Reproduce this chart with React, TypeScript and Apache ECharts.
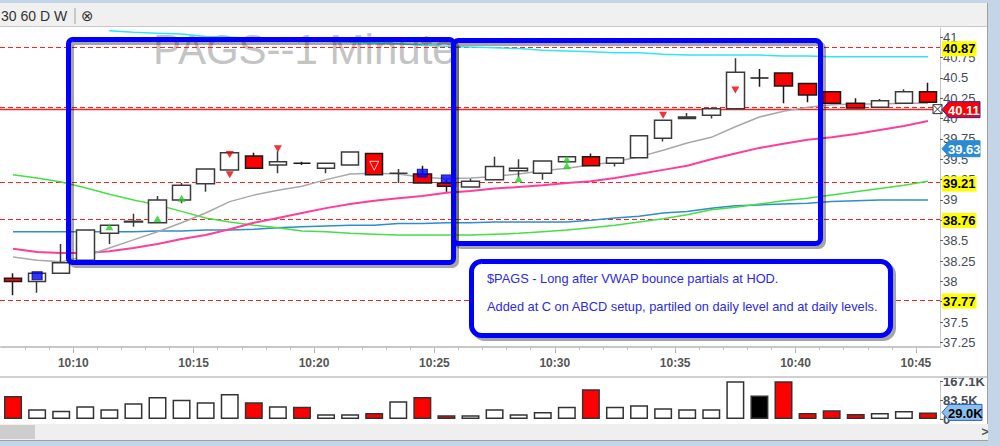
import React, { useEffect, useRef } from "react";
import * as echarts from "echarts";

// ---------- data ----------
const CATEGORIES = [
  "10:07", "10:08", "10:09", "10:10", "10:11", "10:12", "10:13", "10:14", "10:15", "10:16",
  "10:17", "10:18", "10:19", "10:20", "10:21", "10:22", "10:23", "10:24", "10:25", "10:26",
  "10:27", "10:28", "10:29", "10:30", "10:31", "10:32", "10:33", "10:34", "10:35", "10:36",
  "10:37", "10:38", "10:39", "10:40", "10:41", "10:42", "10:43", "10:44", "10:45",
];
const OPEN = [
  38.04, 38.0, 38.1, 38.26, 38.59, 38.73, 38.72, 39.0, 39.2, 39.37,
  39.54, 39.43, 39.45, 39.39, 39.43, 39.57, 39.33, 39.32, 39.21, 39.16,
  39.25, 39.36, 39.33, 39.47, 39.53, 39.45, 39.52, 39.76, 40.0, 40.04,
  40.12, 40.5, 40.56, 40.43, 40.33, 40.19, 40.14, 40.19, 40.33,
];
const CLOSE = [
  38.0, 38.1, 38.23, 38.63, 38.69, 38.74, 39.0, 39.18, 39.38, 39.58,
  39.39, 39.47, 39.45, 39.45, 39.59, 39.31, 39.33, 39.21, 39.17, 39.23,
  39.41, 39.39, 39.48, 39.53, 39.42, 39.52, 39.79, 39.98, 40.02, 40.12,
  40.57, 40.5, 40.4, 40.29, 40.19, 40.13, 40.22, 40.33, 40.2,
];
const LOW = [
  37.83, 37.86, 38.1, 38.26, 38.46, 38.67, 38.72, 38.96, 39.1, 39.37,
  39.39, 39.33, 39.43, 39.33, 39.43, 39.3, 39.21, 39.21, 39.1, 39.16,
  39.25, 39.28, 39.25, 39.47, 39.42, 39.41, 39.52, 39.72, 40.0, 40.0,
  40.12, 40.39, 40.19, 40.2, 40.19, 40.13, 40.14, 40.19, 40.2,
];
const HIGH = [
  38.1, 38.1, 38.46, 38.63, 38.69, 38.83, 39.05, 39.21, 39.38, 39.58,
  39.58, 39.6, 39.47, 39.45, 39.6, 39.57, 39.38, 39.42, 39.25, 39.26,
  39.53, 39.5, 39.48, 39.53, 39.57, 39.52, 39.79, 39.98, 40.07, 40.14,
  40.74, 40.61, 40.56, 40.43, 40.33, 40.25, 40.24, 40.36, 40.44,
];
const VOLUME = [
  101000, 43000, 36000, 56000, 43000, 69000, 97000, 85000, 74000, 110000,
  74000, 56000, 54000, 21000, 21000, 26000, 78000, 97000, 16000, 16000,
  43000, 21000, 31000, 54000, 131000, 54000, 60000, 47000, 43000, 43000,
  166000, 103000, 166000, 26000, 38000, 22000, 26000, 35000, 29000,
];
const VOLUME_SIDE = [
  "down", "up", "up", "up", "up", "up", "up", "up", "up", "up",
  "down", "up", "down", "up", "up", "down", "up", "down", "down", "up",
  "up", "up", "up", "up", "down", "up", "up", "up", "up", "up",
  "up", "flat", "down", "down", "down", "down", "up", "up", "down",
];
const LINE_GRAY = [
  38.3, 38.26, 38.24, 38.31, 38.41, 38.51, 38.61, 38.72, 38.84, 38.98,
  39.06, 39.12, 39.17, 39.25, 39.32, 39.33, 39.32, 39.28, 39.26, 39.27,
  39.29, 39.32, 39.36, 39.39, 39.43, 39.47, 39.53, 39.61, 39.7, 39.77,
  39.9, 40.02, 40.09, 40.14, 40.17, 40.18, 40.18, 40.19, 40.19,
];
const LINE_PINK = [
  38.4, 38.36, 38.35, 38.35, 38.37, 38.41, 38.46, 38.52, 38.57, 38.64,
  38.72, 38.78, 38.84, 38.9, 38.95, 38.99, 39.02, 39.05, 39.09, 39.11,
  39.14, 39.16, 39.18, 39.21, 39.23, 39.27, 39.32, 39.37, 39.42, 39.5,
  39.57, 39.64, 39.69, 39.74, 39.77, 39.81, 39.86, 39.91, 39.97,
];
const LINE_GREEN = [
  39.31, 39.27, 39.22, 39.15, 39.07, 39.0, 38.94, 38.86, 38.78, 38.73,
  38.69, 38.66, 38.62, 38.61, 38.59, 38.58, 38.57, 38.57, 38.57, 38.57,
  38.58, 38.59, 38.61, 38.63, 38.66, 38.69, 38.73, 38.77, 38.82, 38.88,
  38.91, 38.95, 38.99, 39.02, 39.06, 39.1, 39.14, 39.18, 39.23,
];
const LINE_BLUE = [
  38.61, 38.61, 38.61, 38.61, 38.61, 38.61, 38.62, 38.62, 38.63, 38.63,
  38.64, 38.66, 38.67, 38.68, 38.69, 38.69, 38.71, 38.71, 38.72, 38.72,
  38.73, 38.73, 38.73, 38.73, 38.75, 38.78, 38.8, 38.84, 38.86, 38.9,
  38.93, 38.94, 38.95, 38.96, 38.98, 38.99, 39.0, 39.0, 39.0,
];
const LINE_CYAN: (number | string)[] = [
  "-", "-", "-", "-", 41.08, 41.06, 41.05, 41.04, 41.01, 41.0,
  40.99, 40.98, 40.97, 40.95, 40.94, 40.93, 40.92, 40.9, 40.89, 40.88,
  40.87, 40.86, 40.84, 40.83, 40.82, 40.81, 40.81, 40.79, 40.78, 40.78,
  40.78, 40.78, 40.77, 40.77, 40.76, 40.76, 40.76, 40.76, 40.76,
];
const BUY_MARKS = [[4, 38.67], [6, 38.77], [7, 39.02], [21, 39.26], [23, 39.5], [23, 39.42]];
const SELL_MARKS = [[9, 39.56], [9, 39.31], [11, 39.63], [27, 40.04], [30, 40.35]];
const EXIT_MARKS = [[15, 39.42]];
const ORDER_MARKS = [[1, 38.07], [17, 39.33], [18, 39.26]];

const LEVELS = [40.87, 39.21, 38.76, 37.77];
const PRIOR_LEVEL = 40.14;
const LAST_PRICE = 40.11;
const INDICATOR_PRICE = 39.63;
const LAST_VOLUME = 29000;

const PRICE_TICKS = [41, 40.75, 40.5, 40.25, 40, 39.75, 39.5, 39.25, 39, 38.75, 38.5, 38.25, 38, 37.75, 37.5, 37.25];
const TIME_TICKS = [10, 15, 20, 25, 30, 35, 40, 45];
const TIME_TICK_LABELS = ["10:10", "10:15", "10:20", "10:25", "10:30", "10:35", "10:40", "10:45"];
const VOLUME_TICKS = [0, 83550, 167100];
const VOLUME_TICK_LABELS = ["0", "83.5K", "167.1K"];

const TITLE = "PAGS--1 Minute";
const NOTE_LINES = [
  "$PAGS - Long after VWAP bounce partials at HOD.",
  "Added at C on ABCD setup, partiled on daily level and at daily levels.",
];
const TOOLBAR = "30 60 D W";

const FONT = "Arial, 'Liberation Sans', sans-serif";

export default function App() {
  const ref = useRef<HTMLDivElement>(null);

  useEffect(() => {
    if (!ref.current) return;
    const chart = echarts.init(ref.current, null, { renderer: "svg" });

    const candles = OPEN.map((o, i) => [o, CLOSE[i], LOW[i], HIGH[i]]);
    const sideColor: Record<string, string> = { up: "#ffffff", down: "#ff0000", flat: "#000000" };
    const volumes = VOLUME.map((v, i) => ({
      value: v,
      itemStyle: { color: sideColor[VOLUME_SIDE[i]] },
    }));
    const minuteTicks: number[] = [];
    for (let m = 8; m <= 45; m++) minuteTicks.push(m);

    const option: any = {
      animation: false,
      backgroundColor: "#ffffff",
      grid: [
        { left: 1, width: 939, top: 28, height: 319, outerBoundsMode: "none" },
        { left: 1, width: 939, top: 381, height: 38, outerBoundsMode: "none" },
      ],
      xAxis: [
        { type: "category", gridIndex: 0, data: CATEGORIES, boundaryGap: true, show: false },
        { type: "category", gridIndex: 1, data: CATEGORIES, boundaryGap: true, show: false },
        {
          type: "value",
          gridIndex: 0,
          min: 7,
          max: 46,
          position: "bottom",
          splitLine: { show: false },
          axisLine: { show: true, lineStyle: { color: "#c8c8c8", width: 2 } },
          axisTick: { show: true, customValues: TIME_TICKS, length: 6, lineStyle: { color: "#b0b0b0" } },
          axisLabel: {
            show: true,
            customValues: TIME_TICKS,
            margin: 10,
            color: "#555555",
            fontWeight: "bold",
            fontSize: 12,
            fontFamily: FONT,
            formatter: (v: number) => TIME_TICK_LABELS[TIME_TICKS.indexOf(v)] ?? "",
          },
        },
        {
          type: "value",
          gridIndex: 0,
          min: 7,
          max: 46,
          position: "bottom",
          splitLine: { show: false },
          axisLine: { show: false },
          axisTick: { show: true, customValues: minuteTicks, length: 3, lineStyle: { color: "#c0c0c0" } },
          axisLabel: { show: false },
        },
      ],
      yAxis: [
        {
          type: "value",
          gridIndex: 0,
          position: "right",
          min: 37.194,
          max: 41.113,
          splitLine: { show: false },
          axisLine: { show: true, lineStyle: { color: "#c8c8c8" } },
          axisTick: { show: true, customValues: PRICE_TICKS, length: 3, lineStyle: { color: "#666666" } },
          axisLabel: {
            show: true,
            customValues: PRICE_TICKS,
            margin: 3,
            color: "#454c58",
            fontSize: 13,
            fontFamily: FONT,
            formatter: (v: number) => String(v),
          },
        },
        {
          type: "value",
          gridIndex: 1,
          position: "right",
          min: 0,
          max: 167100,
          splitLine: { show: false },
          axisLine: { show: true, lineStyle: { color: "#c8c8c8" } },
          axisTick: { show: true, customValues: VOLUME_TICKS, length: 3, lineStyle: { color: "#666666" } },
          axisLabel: {
            show: true,
            customValues: VOLUME_TICKS,
            margin: 3,
            color: "#454c58",
            fontWeight: "bold",
            fontSize: 13,
            fontFamily: FONT,
            formatter: (v: number) => VOLUME_TICK_LABELS[VOLUME_TICKS.indexOf(v)] ?? "",
          },
        },
      ],
      series: [
        { type: "line", name: "Cyan", data: LINE_CYAN, xAxisIndex: 0, yAxisIndex: 0, symbol: "none", lineStyle: { color: "#30e6f0", width: 1.5 }, silent: true },
        { type: "line", name: "Blue", data: LINE_BLUE, xAxisIndex: 0, yAxisIndex: 0, symbol: "none", lineStyle: { color: "#2f8ccf", width: 1.5 }, silent: true },
        { type: "line", name: "Green", data: LINE_GREEN, xAxisIndex: 0, yAxisIndex: 0, symbol: "none", lineStyle: { color: "#44e044", width: 1.5 }, silent: true },
        { type: "line", name: "Pink", data: LINE_PINK, xAxisIndex: 0, yAxisIndex: 0, symbol: "none", lineStyle: { color: "#ff3d9a", width: 2 }, silent: true },
        { type: "line", name: "Gray", data: LINE_GRAY, xAxisIndex: 0, yAxisIndex: 0, symbol: "none", lineStyle: { color: "#a8a8a8", width: 1.5 }, silent: true },
        {
          type: "candlestick",
          name: "PAGS",
          data: candles,
          xAxisIndex: 0,
          yAxisIndex: 0,
          barWidth: 18,
          z: 3,
          itemStyle: { color: "#ffffff", color0: "#ff0000", borderColor: "#3a3a3a", borderColor0: "#1a1a1a", borderWidth: 1.5 },
        },
        { type: "scatter", name: "Buys", data: BUY_MARKS, xAxisIndex: 0, yAxisIndex: 0, symbol: "triangle", symbolSize: [8, 7], itemStyle: { color: "#22cc22" }, silent: true, z: 4 },
        { type: "scatter", name: "Sells", data: SELL_MARKS, xAxisIndex: 0, yAxisIndex: 0, symbol: "triangle", symbolRotate: 180, symbolSize: [8, 7], itemStyle: { color: "#ee0000" }, silent: true, z: 4 },
        { type: "scatter", name: "Exit", data: EXIT_MARKS, xAxisIndex: 0, yAxisIndex: 0, symbol: "triangle", symbolRotate: 180, symbolSize: [9, 9], itemStyle: { color: "rgba(0,0,0,0)", borderColor: "#ffffff", borderWidth: 1 }, silent: true, z: 4 },
        { type: "scatter", name: "Orders", data: ORDER_MARKS, xAxisIndex: 0, yAxisIndex: 0, symbol: "rect", symbolSize: [10, 8], itemStyle: { color: "#0000ff", borderColor: "#000066", borderWidth: 1 }, silent: true, z: 4 },
        {
          type: "bar",
          name: "Volume",
          data: volumes,
          xAxisIndex: 1,
          yAxisIndex: 1,
          barWidth: 18,
          itemStyle: { borderColor: "#333333", borderWidth: 1.5 },
          silent: true,
        },
      ],
    };
    chart.setOption(option);

    const py = (v: number) => chart.convertToPixel({ yAxisIndex: 0 }, v) as number;
    const vy = (v: number) => chart.convertToPixel({ yAxisIndex: 1 }, v) as number;
    const axisX = chart.convertToPixel({ xAxisIndex: 2 }, 46) as number;
    const leftX = chart.convertToPixel({ xAxisIndex: 2 }, 7) as number;
    const crisp = (y: number) => Math.round(y - 0.5) + 0.5;

    const levelLine = (v: number, solid = false) => ({
      type: "line",
      z: 2,
      shape: { x1: leftX - 1, y1: crisp(py(v)), x2: axisX, y2: crisp(py(v)) },
      style: { stroke: "#ff2020", lineWidth: solid ? 1.5 : 1.2, lineDash: solid ? null : [5, 3] },
    });
    const levelLabel = (v: number) => ({
      type: "text",
      z: 55,
      x: axisX + 2,
      y: py(v) + 1,
      style: {
        text: v.toFixed(2),
        fill: "#000000",
        font: `bold 13px ${FONT}`,
        backgroundColor: "#ffff00",
        padding: [2, 1, 0, 1],
        textAlign: "left",
        textVerticalAlign: "middle",
      },
    });

    const arrow = (y: number, fill: string, stroke: string, text: string, color: string, w = 38) => [
      {
        type: "polygon",
        z: 60,
        shape: { points: [[axisX + 2, y], [axisX + 9, y - 8], [axisX + 2 + w, y - 8], [axisX + 2 + w, y + 8], [axisX + 9, y + 8]] },
        style: { fill, stroke, lineWidth: 1 },
      },
      {
        type: "text",
        z: 61,
        x: axisX + 8,
        y: y + 1,
        style: { text, fill: color, font: `bold 13px ${FONT}`, textAlign: "left", textVerticalAlign: "middle" },
      },
    ];

    const lastY = py(LAST_PRICE);
    const graphic: any[] = [
      // watermark title
      { type: "text", z: 0, x: 153, y: 70, style: { text: TITLE, fill: "#c4c4c4", font: `42px ${FONT}`, textAlign: "left", textVerticalAlign: "bottom" } },
      // price levels
      ...LEVELS.map((v) => levelLine(v)),
      levelLine(PRIOR_LEVEL),
      levelLine(LAST_PRICE, true),
      ...LEVELS.map((v) => levelLabel(v)),
      // window chrome
      { type: "rect", z: 70, shape: { x: 0, y: 0, width: 1000, height: 3 }, style: { fill: "#c5d5e8" } },
      { type: "rect", z: 70, shape: { x: 0, y: 3, width: 988, height: 23 }, style: { fill: "#f0f0f0" } },
      { type: "line", z: 70, shape: { x1: 0, y1: 26.5, x2: 988, y2: 26.5 }, style: { stroke: "#c8c8c8", lineWidth: 1 } },
      { type: "text", z: 71, x: 1, y: 16, style: { text: TOOLBAR, fill: "#333333", font: `14px ${FONT}`, textAlign: "left", textVerticalAlign: "middle" } },
      { type: "line", z: 71, shape: { x1: 75, y1: 8, x2: 75, y2: 24 }, style: { stroke: "#a0a0a0", lineWidth: 1 } },
      { type: "text", z: 71, x: 81, y: 16, style: { text: "⊗", fill: "#333333", font: `15px 'DejaVu Sans', sans-serif`, textAlign: "left", textVerticalAlign: "middle" } },
      { type: "rect", z: 70, shape: { x: 988, y: 0, width: 12, height: 446 }, style: { fill: "#c5d5e8" } },
      { type: "line", z: 70, shape: { x1: 987.5, y1: 3, x2: 987.5, y2: 441 }, style: { stroke: "#a0a0a0", lineWidth: 1 } },
      { type: "line", z: 1, shape: { x1: 0, y1: 377, x2: 988, y2: 377 }, style: { stroke: "#d0d0d0", lineWidth: 2 } },
      { type: "rect", z: 70, shape: { x: 0, y: 424, width: 988, height: 16 }, style: { fill: "#efefef" } },
      { type: "rect", z: 71, shape: { x: 0, y: 425, width: 35, height: 14 }, style: { fill: "#cdcdcd" } },
      { type: "line", z: 71, shape: { x1: 0, y1: 440.5, x2: 988, y2: 440.5 }, style: { stroke: "#a0a0a0", lineWidth: 1 } },
      { type: "rect", z: 70, shape: { x: 0, y: 441, width: 1000, height: 5 }, style: { fill: "#c5d5e8" } },
      { type: "text", z: 71, x: 985, y: 432, style: { text: ">", fill: "#555555", font: `bold 12px ${FONT}`, textAlign: "center", textVerticalAlign: "middle" } },
      // annotation boxes (shadows then blue frames)
      { type: "rect", z: 49, shape: { x: 71.5, y: 42.5, width: 385, height: 223, r: 4 }, style: { fill: "none", stroke: "rgba(0,0,0,0.35)", lineWidth: 5 } },
      { type: "rect", z: 49, shape: { x: 456.5, y: 43.5, width: 367, height: 203, r: 5 }, style: { fill: "none", stroke: "rgba(0,0,0,0.35)", lineWidth: 5 } },
      { type: "rect", z: 50, shape: { x: 68.5, y: 39.5, width: 385, height: 223, r: 4 }, style: { fill: "none", stroke: "#0000ff", lineWidth: 5 } },
      { type: "rect", z: 50, shape: { x: 453.5, y: 40.5, width: 367, height: 203, r: 5 }, style: { fill: "none", stroke: "#0000ff", lineWidth: 5 } },
      // note box
      { type: "rect", z: 49, shape: { x: 474.5, y: 264.5, width: 419, height: 74, r: 10 }, style: { fill: "none", stroke: "rgba(0,0,0,0.35)", lineWidth: 5 } },
      { type: "rect", z: 50, shape: { x: 471.5, y: 261.5, width: 419, height: 74, r: 10 }, style: { fill: "#ffffff", stroke: "#0000ff", lineWidth: 5 } },
      { type: "text", z: 51, x: 487, y: 278, style: { text: NOTE_LINES[0], fill: "#2a2aee", font: `12.8px ${FONT}`, textAlign: "left", textVerticalAlign: "middle" } },
      { type: "text", z: 51, x: 487, y: 306, style: { text: NOTE_LINES[1], fill: "#2a2aee", font: `12.8px ${FONT}`, textAlign: "left", textVerticalAlign: "middle" } },
      // last-price marker icon
      { type: "rect", z: 60, shape: { x: axisX - 7, y: lastY - 5, width: 9, height: 9 }, style: { fill: "#ffffff", stroke: "#333333", lineWidth: 1 } },
      { type: "line", z: 60, shape: { x1: axisX - 7, y1: lastY - 5, x2: axisX + 2, y2: lastY + 4 }, style: { stroke: "#333333", lineWidth: 1 } },
      { type: "line", z: 60, shape: { x1: axisX + 2, y1: lastY - 5, x2: axisX - 7, y2: lastY + 4 }, style: { stroke: "#333333", lineWidth: 1 } },
      ...arrow(lastY, "#ff0000", "#2222cc", LAST_PRICE.toFixed(2), "#ffffff"),
      ...arrow(py(INDICATOR_PRICE), "#2a8ad2", "#2a8ad2", INDICATOR_PRICE.toFixed(2), "#ffffff"),
      ...arrow(vy(LAST_VOLUME), "#8cc0ea", "#2a5fd2", (LAST_VOLUME / 1000).toFixed(1) + "K", "#000000", 40),
    ];
    chart.setOption({ graphic });

    return () => chart.dispose();
  }, []);

  return (
    <div
      ref={ref}
      style={{ position: "fixed", left: 0, top: 0, width: 1000, height: 446, background: "#ffffff" }}
    />
  );
}
